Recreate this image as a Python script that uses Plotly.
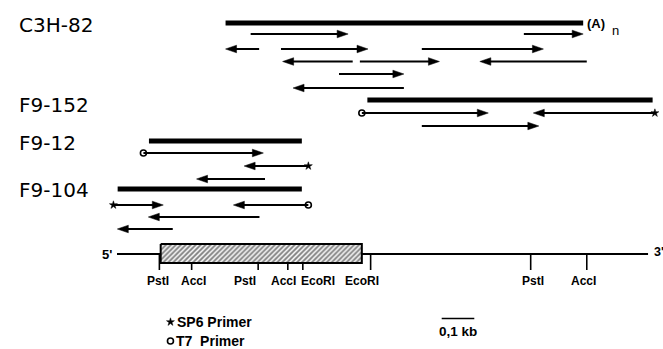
import plotly.graph_objects as go

# ---------------- data (positions along the mRNA in kb) ----------------
clone_names = ["C3H-82", "F9-152", "F9-12", "F9-104"]
clone_start = [0.333, 0.768, 0.098, 0.002]
clone_end = [1.430, 1.643, 0.567, 0.567]
clone_track = [2.3, 10.0, 14.1, 18.9]

# sequencing runs: tail -> tip (arrow direction), track, primer used
run_tail = [0.410, 1.248, 0.436, 0.503, 0.935, 0.723, 0.745, 1.441, 0.681, 0.880,
            0.751, 1.650, 0.935,
            0.081, 0.587, 0.454,
            -0.011, 0.587, 0.437, 0.171]
run_tip = [0.709, 1.430, 0.333, 0.770, 1.308, 0.508, 0.989, 1.113, 0.880, 0.540,
           1.139, 1.277, 1.294,
           0.449, 0.390, 0.244,
           0.142, 0.357, 0.096, 0.001]
run_track = [3.4, 3.4, 4.9, 4.9, 4.9, 6.15, 6.15, 6.15, 7.4, 8.8,
             11.3, 11.3, 12.6,
             15.3, 16.6, 17.9,
             20.5, 20.5, 21.7, 22.9]
run_primer = ["", "", "", "", "", "", "", "", "", "",
              "T7", "SP6", "",
              "T7", "SP6", "",
              "SP6", "T7", "", ""]

site_names = ["PstI", "AccI", "PstI", "AccI", "EcoRI", "EcoRI", "PstI", "AccI"]
site_pos = [0.130, 0.229, 0.433, 0.524, 0.570, 0.778, 1.269, 1.441]

mrna_start, mrna_end = 0.0, 1.629
cds_start, cds_end = 0.134, 0.751
scale_start, scale_kb = 0.996, 0.1

# ---------------- layout helpers ----------------
PX_PER_KB = 326.0
X0_PX = 117.0
W, H = 663, 349
xr = [-X0_PX / PX_PER_KB, (W - X0_PX) / PX_PER_KB]
yr = [H / 10.0, 0]

map_y = 25.4
box_top, box_bot = 24.4, 26.3
tick_end = 27.0
label_y = 28.1
label_dx = [-1, 2, -13, -4, 15, -9, 2, -3]

head_len = 11.0 / PX_PER_KB
head_half = 0.38

FONT = "Arial, Liberation Sans, Helvetica, sans-serif"

fig = go.Figure()
shapes = []
annotations = []

# clone bars
for s, e, t in zip(clone_start, clone_end, clone_track):
    shapes.append(dict(type="line", xref="x", yref="y", x0=s, x1=e, y0=t, y1=t,
                       line=dict(color="black", width=5)))

# sequencing arrows
for tail, tip, t in zip(run_tail, run_tip, run_track):
    d = 1 if tip > tail else -1
    base = tip - d * head_len
    shapes.append(dict(type="line", xref="x", yref="y", x0=tail, x1=base + d * 0.3 * head_len,
                       y0=t, y1=t, line=dict(color="black", width=2)))
    path = f"M{tip},{t} L{base},{t - head_half} L{base},{t + head_half} Z"
    shapes.append(dict(type="path", xref="x", yref="y", path=path,
                       fillcolor="black", line=dict(color="black", width=0.5)))

# mRNA line
shapes.append(dict(type="line", xref="x", yref="y", x0=mrna_start, x1=cds_start,
                   y0=map_y, y1=map_y, line=dict(color="black", width=2)))
shapes.append(dict(type="line", xref="x", yref="y", x0=cds_end, x1=mrna_end,
                   y0=map_y, y1=map_y, line=dict(color="black", width=2)))

# restriction sites
for name, p, dx in zip(site_names, site_pos, label_dx):
    top = box_bot if cds_start < p < cds_end else map_y
    shapes.append(dict(type="line", xref="x", yref="y", x0=p, x1=p, y0=top, y1=tick_end,
                       line=dict(color="black", width=1.6)))
    annotations.append(dict(x=p, y=label_y, xref="x", yref="y", text=name, showarrow=False,
                            xshift=dx, xanchor="center", yanchor="middle",
                            font=dict(family=FONT, size=12, color="black", weight="bold")))

# coding region box (hatched)
fig.add_trace(go.Scatter(
    x=[cds_start, cds_end, cds_end, cds_start, cds_start],
    y=[box_top, box_top, box_bot, box_bot, box_top],
    mode="lines", fill="toself", line=dict(color="black", width=2),
    fillcolor="white",
    fillpattern=dict(shape="/", size=3.5, solidity=0.55, fgcolor="black", bgcolor="white"),
    hoverinfo="skip", showlegend=False))

# primer markers
t7_x = [tl for tl, pr in zip(run_tail, run_primer) if pr == "T7"]
t7_y = [tr for tr, pr in zip(run_track, run_primer) if pr == "T7"]
sp6_x = [tl for tl, pr in zip(run_tail, run_primer) if pr == "SP6"]
sp6_y = [tr for tr, pr in zip(run_track, run_primer) if pr == "SP6"]

leg_x = 0.164
leg_sp6_y, leg_t7_y = 32.2, 34.1

fig.add_trace(go.Scatter(x=t7_x + [leg_x], y=t7_y + [leg_t7_y], mode="markers",
                         marker=dict(symbol="circle", size=6, color="white",
                                     line=dict(color="black", width=1.6)),
                         cliponaxis=False, hoverinfo="skip", showlegend=False))
fig.add_trace(go.Scatter(x=sp6_x + [leg_x], y=sp6_y + [leg_sp6_y], mode="markers",
                         marker=dict(symbol="star", size=6, color="black",
                                     line=dict(color="black", width=0.5)),
                         cliponaxis=False, hoverinfo="skip", showlegend=False))

# scale bar
shapes.append(dict(type="line", xref="x", yref="y", x0=scale_start, x1=scale_start + scale_kb,
                   y0=31.85, y1=31.85, line=dict(color="black", width=1.6)))
annotations.append(dict(x=scale_start + scale_kb / 2, y=33.1, xref="x", yref="y",
                        text="0,1 kb", showarrow=False,
                        font=dict(family=FONT, size=13.5, color="black", weight="bold")))

# clone labels
for name, t in zip(clone_names, [2.5, 10.5, 14.3, 19.0]):
    annotations.append(dict(x=17 / W, y=t, xref="paper", yref="y", text=name,
                            showarrow=False, xanchor="left", yanchor="middle",
                            font=dict(family="DejaVu Sans, sans-serif", size=20, color="black")))

# poly(A)
annotations.append(dict(x=clone_end[0], y=2.35, xref="x", yref="y", text="(A)",
                        showarrow=False, xanchor="left", yanchor="middle", xshift=2,
                        font=dict(family=FONT, size=13, color="black", weight="bold")))
annotations.append(dict(x=clone_end[0], y=3.0, xref="x", yref="y", text="n",
                        showarrow=False, xanchor="left", yanchor="middle", xshift=27,
                        font=dict(family=FONT, size=13, color="black")))

# 5' and 3'
annotations.append(dict(x=mrna_start, y=map_y, xref="x", yref="y", text="5'",
                        showarrow=False, xanchor="right", yanchor="middle", xshift=-3,
                        font=dict(family=FONT, size=13, color="black", weight="bold")))
annotations.append(dict(x=mrna_end, y=map_y - 0.2, xref="x", yref="y", text="3'",
                        showarrow=False, xanchor="left", yanchor="middle", xshift=4,
                        font=dict(family=FONT, size=12.5, color="black", weight="bold")))

# legend text
annotations.append(dict(x=leg_x, y=leg_sp6_y, xref="x", yref="y", text="SP6 Primer",
                        showarrow=False, xanchor="left", yanchor="middle", xshift=5,
                        font=dict(family=FONT, size=14, color="black", weight="bold")))
annotations.append(dict(x=leg_x, y=leg_t7_y, xref="x", yref="y", text="T7&nbsp;&nbsp;Primer",
                        showarrow=False, xanchor="left", yanchor="middle", xshift=4,
                        font=dict(family=FONT, size=14, color="black", weight="bold")))

fig.update_layout(
    width=W, height=H,
    margin=dict(l=0, r=0, t=0, b=0),
    paper_bgcolor="white", plot_bgcolor="white",
    shapes=shapes, annotations=annotations,
    xaxis=dict(range=xr, visible=False, fixedrange=True),
    yaxis=dict(range=yr, visible=False, fixedrange=True),
    showlegend=False,
)

fig.write_html(
    "out.html",
    config={"displayModeBar": False, "staticPlot": True},
    post_script="document.body.style.margin='0';document.body.style.overflow='hidden';",
)
